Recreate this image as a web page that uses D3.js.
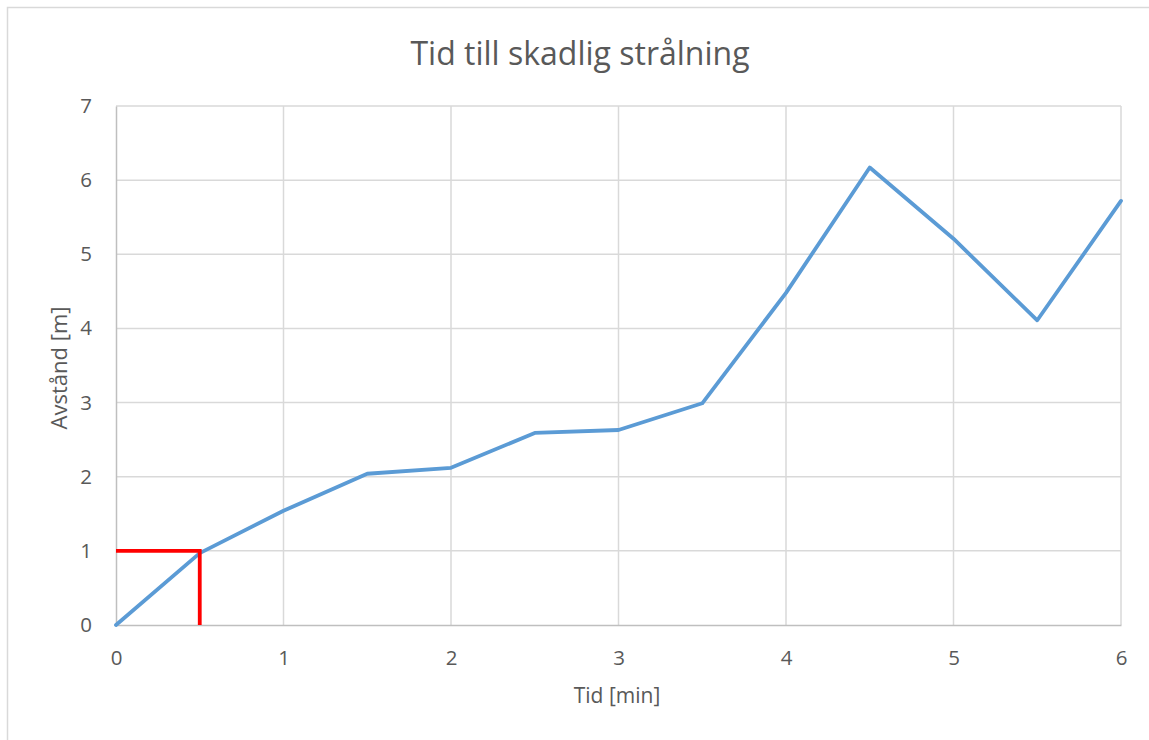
<!DOCTYPE html>
<html>
<head>
<meta charset="utf-8">
<script src="https://cdn.jsdelivr.net/npm/d3@7"></script>
<style>
  html, body { margin: 0; padding: 0; background: #fff; }
  svg { display: block; }
  text { font-family: "Open Sans", "Liberation Sans", sans-serif; fill: #595959; }
</style>
</head>
<body>
<svg id="chart" width="1149" height="740"></svg>
<script>
// Measured distance over time
const times = [0, 0.5, 1, 1.5, 2, 2.5, 3, 3.5, 4, 4.5, 5, 5.5, 6];
const distances = [0, 0.97, 1.54, 2.04, 2.12, 2.59, 2.63, 2.99, 4.48, 6.17, 5.21, 4.11, 5.72];

// Reference marker: 1 m reached at 0.5 min
const markerX = [0, 0.5, 0.5];
const markerY = [1, 1, 0];

const xTicks = [0, 1, 2, 3, 4, 5, 6];
const yTicks = [0, 1, 2, 3, 4, 5, 6, 7];

const title = "Tid till skadlig strålning";
const xTitle = "Tid [min]";
const yTitle = "Avstånd [m]";

const svg = d3.select("#chart");
const plot = { left: 116, right: 1121, top: 106, bottom: 625 };

const x = d3.scaleLinear().domain([0, 6]).range([plot.left, plot.right]);
const y = d3.scaleLinear().domain([0, 7]).range([plot.bottom, plot.top]);

// Outer chart frame
svg.append("rect")
  .attr("x", 7.5).attr("y", 7.5)
  .attr("width", 1160).attr("height", 760)
  .attr("fill", "none").attr("stroke", "#d9d9d9").attr("stroke-width", 1.5);

// Gridlines
svg.append("g").selectAll("line").data(yTicks.filter(d => d > 0)).join("line")
  .attr("x1", plot.left).attr("x2", plot.right)
  .attr("y1", d => y(d)).attr("y2", d => y(d))
  .attr("stroke", "#d9d9d9").attr("stroke-width", 1.5);
svg.append("g").selectAll("line").data(xTicks.filter(d => d > 0)).join("line")
  .attr("x1", d => x(d)).attr("x2", d => x(d))
  .attr("y1", plot.top).attr("y2", plot.bottom)
  .attr("stroke", "#d9d9d9").attr("stroke-width", 1.5);

// Axes
const xAxis = svg.append("g")
  .attr("transform", `translate(0,${plot.bottom})`)
  .call(d3.axisBottom(x).tickValues(xTicks).tickSize(0).tickPadding(25).tickFormat(d3.format("d")));
const yAxis = svg.append("g")
  .attr("transform", `translate(${plot.left},0)`)
  .call(d3.axisLeft(y).tickValues(yTicks).tickSize(0).tickPadding(24).tickFormat(d3.format("d")));
[xAxis, yAxis].forEach(g => {
  g.attr("font-size", null).attr("font-family", null);
  g.select(".domain").attr("stroke", "#bfbfbf").attr("stroke-width", 1.5);
  g.selectAll("text")
    .style("font-size", "20.5px")
    .style("fill", "#595959")
    .style("font-family", '"Open Sans", "Liberation Sans", sans-serif');
});

// Data line
const line = d3.line().x((d, i) => x(times[i])).y(d => y(d));
svg.append("path")
  .datum(distances)
  .attr("d", line)
  .attr("fill", "none")
  .attr("stroke", "#5b9bd5")
  .attr("stroke-width", 3.8)
  .attr("stroke-linejoin", "round")
  .attr("stroke-linecap", "round");

// Red marker
const markerLine = d3.line().x((d, i) => x(markerX[i])).y(d => y(d));
svg.append("path")
  .datum(markerY)
  .attr("d", markerLine)
  .attr("fill", "none")
  .attr("stroke", "#ff0000")
  .attr("stroke-width", 3.8);

// Titles
svg.append("text")
  .attr("x", 580).attr("y", 65)
  .attr("text-anchor", "middle")
  .style("font-size", "32px")
  .text(title);
svg.append("text")
  .attr("x", 617).attr("y", 703)
  .attr("text-anchor", "middle")
  .style("font-size", "21px")
  .text(xTitle);
svg.append("text")
  .attr("transform", `translate(67,368) rotate(-90)`)
  .attr("text-anchor", "middle")
  .style("font-size", "22px")
  .text(yTitle);
</script>
</body>
</html>
